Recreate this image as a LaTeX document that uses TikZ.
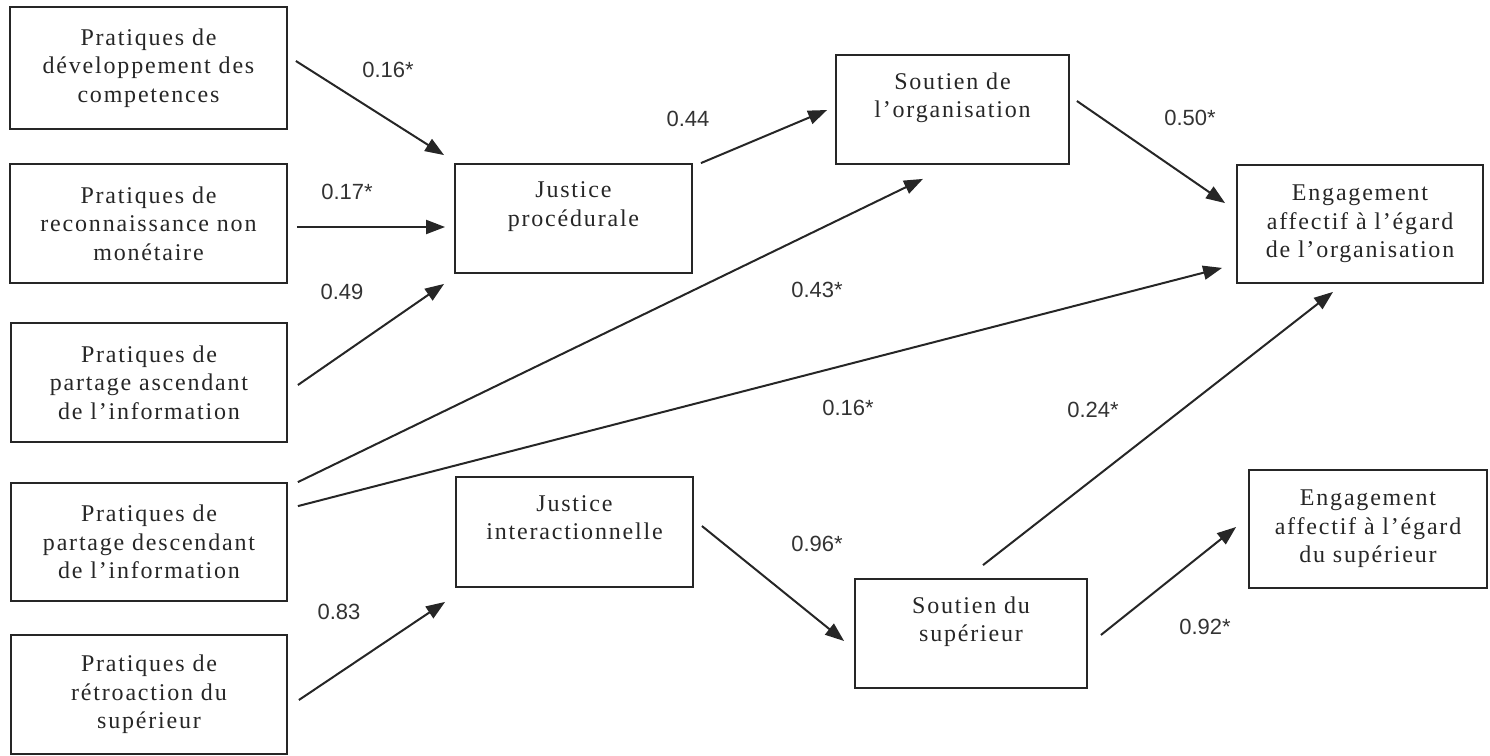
\documentclass[tikz,border=0pt]{standalone}
\usepackage{fontspec}
\newfontfamily\boitefont{Liberation Serif}[LetterSpace=7.5]
\newfontfamily\coeffont{Liberation Sans}
\usetikzlibrary{arrows.meta}

\tikzset{
    boite/.style={
        draw=black!85,
        line width=1.8pt,
        align=center,
        inner sep=0pt,
        text=black!85,
        font=\boitefont\fontsize{24}{28.5}\selectfont
    },
    coef/.style={
        font=\coeffont\fontsize{22}{24}\selectfont,
        text=black!80
    },
    lien/.style={
        draw=black!85,
        line width=2pt,
        -{Triangle[length=19pt,width=14pt]}
    }
}

\begin{document}
\begin{tikzpicture}[x=1pt,y=-1pt]

    \useasboundingbox (0,0) rectangle (1490,755);

    % Pratiques
    \node[boite, minimum width=277pt, minimum height=122pt]
        (devcomp) at (148.5,68)
        {Pratiques de\\développement des\\competences};

    \node[boite, minimum width=277pt, minimum height=119pt]
        (reconn) at (148.5,223.5)
        {Pratiques de\\reconnaissance non\\monétaire};

    \node[boite, minimum width=276pt, minimum height=119pt]
        (ascend) at (149,382.5)
        {Pratiques de\\partage ascendant\\de l’information};

    \node[boite, minimum width=276pt, minimum height=118pt]
        (descend) at (149,542)
        {Pratiques de\\partage descendant\\de l’information};

    \node[boite, minimum width=276pt, minimum height=119pt]
        (retro) at (149,694.5)
        {Pratiques de\\rétroaction du\\supérieur};

    % Justice
    \node[boite, minimum width=237pt, minimum height=109pt]
        (jproc) at (573.5,218.5)
        {Justice\\procédurale\\\mbox{}};

    \node[boite, minimum width=237pt, minimum height=110pt]
        (jinter) at (574.5,532)
        {Justice\\interactionnelle\\\mbox{}};

    % Soutien
    \node[boite, minimum width=233pt, minimum height=109pt]
        (soutorg) at (952.5,109.5)
        {Soutien de\\l’organisation\\\mbox{}};

    \node[boite, minimum width=232pt, minimum height=109pt]
        (soutsup) at (971,633.5)
        {Soutien du\\supérieur\\\mbox{}};

    % Engagement
    \node[boite, minimum width=246pt, minimum height=118pt]
        (engorg) at (1360,224)
        {Engagement\\affectif à l’égard\\de l’organisation};

    \node[boite, minimum width=238pt, minimum height=118pt]
        (engsup) at (1368,529)
        {Engagement\\affectif à l’égard\\du supérieur};

    % Liens
    \draw[lien] ([shift={(8,-7)}]devcomp.east) -- ([shift={(-10,-8)}]jproc.north west);
    \draw[lien] ([shift={(9,3.5)}]reconn.east) -- ([shift={(-9,8.5)}]jproc.west);
    \draw[lien] ([shift={(10,2.5)}]ascend.east) -- ([shift={(-10,10)}]jproc.south west);
    \draw[lien] ([shift={(10,0)}]descend.north east) -- ([shift={(-29.5,14)}]soutorg.south);
    \draw[lien] ([shift={(10,24)}]descend.north east) -- ([shift={(-14,-16)}]engorg.south west);
    \draw[lien] ([shift={(11,5.5)}]retro.east) -- ([shift={(-10,14)}]jinter.south west);
    \draw[lien] ([shift={(8,0)}]jproc.north east) -- ([shift={(-8,0.5)}]soutorg.west);
    \draw[lien] ([shift={(7,-8.5)}]soutorg.east) -- ([shift={(-11,39)}]engorg.north west);
    \draw[lien] ([shift={(8,-6)}]jinter.east) -- ([shift={(-10,7.5)}]soutsup.west);
    \draw[lien] ([shift={(12,-13)}]soutsup.north) -- ([shift={(-27,8)}]engorg.south);
    \draw[lien] ([shift={(13,1.5)}]soutsup.east) -- ([shift={(-12,-2)}]engsup.west);

    % Coefficients
    \foreach \x/\y/\t [count=\i] in {
        388/70/0.16*,
        347/192/0.17*,
        342/292/0.49,
        817/290/0.43*,
        848/408/0.16*,
        339/612/0.83,
        688/119/0.44,
        1190/118/0.50*,
        817/544/0.96*,
        1093/410/0.24*,
        1205/627/0.92*
    }{
        \node[coef] (coef\i) at (\x,\y) {\t};
    }

\end{tikzpicture}
\end{document}
